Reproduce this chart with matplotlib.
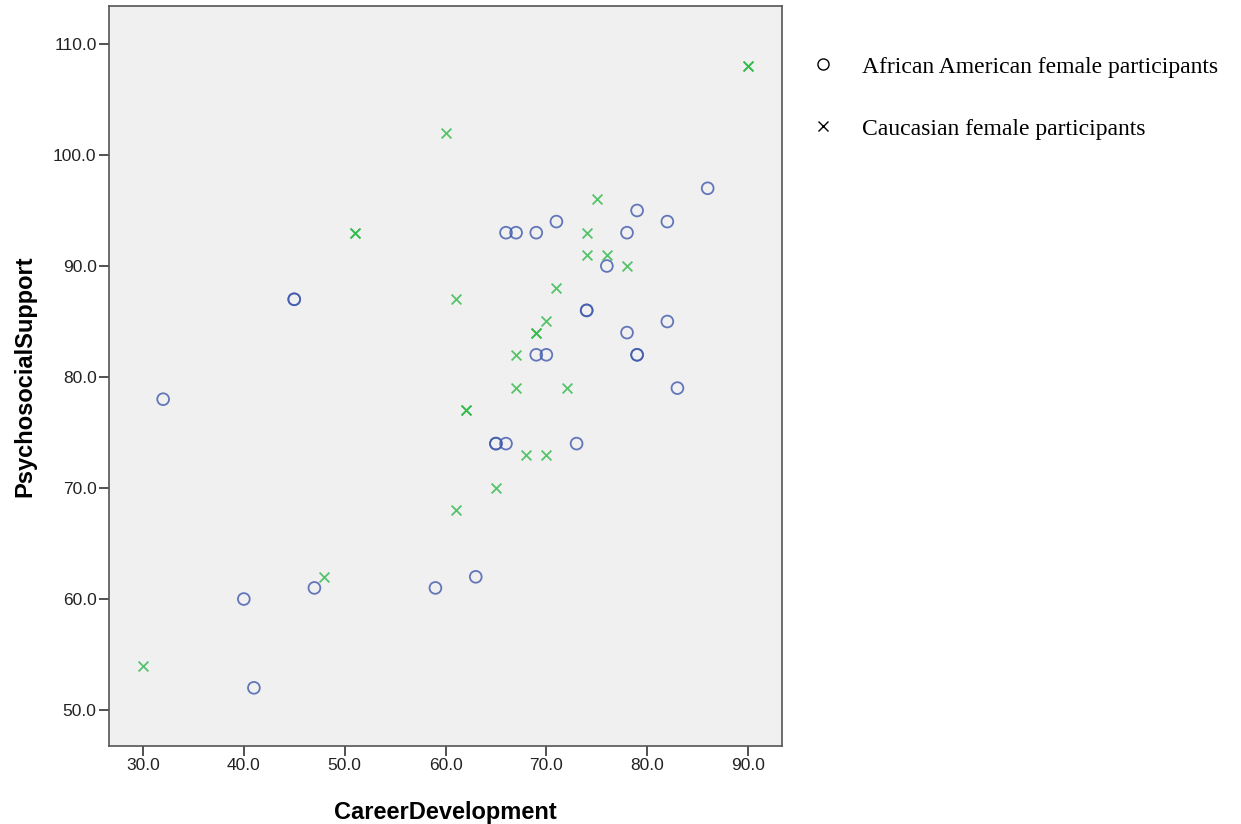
import matplotlib.pyplot as plt
from matplotlib.lines import Line2D

# Career development vs psychosocial support
aa_x = [32, 45, 45, 40, 41, 47, 59, 63, 65, 65, 66, 73, 66, 67, 69,
        71, 69, 70, 74, 74, 76, 78, 79, 82, 78, 82, 79, 79, 83, 86]
aa_y = [78, 87, 87, 60, 52, 61, 61, 62, 74, 74, 74, 74, 93, 93, 93,
        94, 82, 82, 86, 86, 90, 93, 95, 94, 84, 85, 82, 82, 79, 97]

ca_x = [90, 90, 60, 51, 51, 61, 75, 74, 74, 76, 78, 71, 70, 69, 69,
        67, 67, 72, 62, 62, 68, 70, 65, 61, 48, 30]
ca_y = [108, 108, 102, 93, 93, 87, 96, 93, 91, 91, 90, 88, 85, 84, 84,
        82, 79, 79, 77, 77, 73, 73, 70, 68, 62, 54]

x_ticks = [30, 40, 50, 60, 70, 80, 90]
y_ticks = [50, 60, 70, 80, 90, 100, 110]

labels = ["African American female participants", "Caucasian female participants"]

fig = plt.figure(figsize=(12.41, 8.24), dpi=100)
ax = fig.add_axes([109 / 1241, 1 - 746 / 824, (782 - 109) / 1241, (746 - 6) / 824])
ax.set_facecolor("#f0f0f0")

ax.scatter(aa_x, aa_y, s=72, marker="o", facecolors="none",
           edgecolors="#3e58ac", linewidths=1.3, alpha=0.8, zorder=3)
ax.scatter(ca_x, ca_y, s=50, marker="x", color="#2eb848",
           linewidths=1.3, alpha=0.8, zorder=3)

ax.set_xlim(26.63, 93.37)
ax.set_ylim(46.76, 113.42)
ax.set_xticks(x_ticks)
ax.set_yticks(y_ticks)
ax.set_xticklabels([f"{v:.1f}" for v in x_ticks])
ax.set_yticklabels([f"{v:.1f}" for v in y_ticks])
ax.tick_params(direction="out", length=7, width=1.2, color="#333333",
               labelsize=12.5, pad=2, labelcolor="#222222")
for lbl in ax.get_xticklabels() + ax.get_yticklabels():
    lbl.set_family("Liberation Sans")

for sp in ax.spines.values():
    sp.set_color("#555555")
    sp.set_linewidth(1.2)

ax.set_xlabel("CareerDevelopment", fontsize=17, fontweight="bold",
              family="Liberation Sans", labelpad=20)
ax.set_ylabel("PsychosocialSupport", fontsize=17, fontweight="bold",
              family="Liberation Sans", labelpad=12)

handles = [
    Line2D([], [], marker="o", linestyle="none", markerfacecolor="none",
           markeredgecolor="black", markersize=8, markeredgewidth=1.0),
    Line2D([], [], marker="x", linestyle="none", color="black",
           markersize=7.5, markeredgewidth=1.0),
]
fig.legend(handles, labels, loc="upper left", bbox_to_anchor=(811 / 1241, 1 - 56 / 824),
           frameon=False, prop={"family": "Liberation Serif", "size": 17},
           handlelength=1.0, handletextpad=1.16, labelspacing=1.72, borderpad=0,
           borderaxespad=0)

fig.savefig("out.png", dpi=100)
